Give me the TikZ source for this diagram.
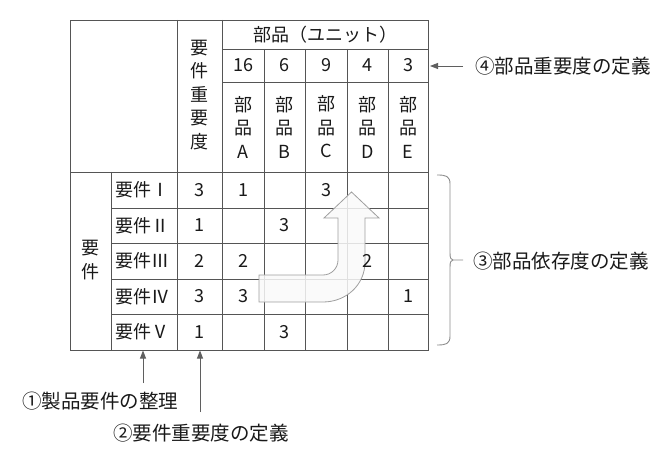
\documentclass[tikz,border=0pt]{standalone}
\usepackage{fontspec}
\setmainfont{Noto Sans CJK JP}
\usetikzlibrary{arrows.meta}
\definecolor{tline}{RGB}{85,85,85}
\definecolor{aline}{RGB}{95,95,95}
\definecolor{bline}{RGB}{140,140,140}
\definecolor{txt}{RGB}{25,25,25}
\begin{document}
\begin{tikzpicture}[x=1pt,y=-1pt,
  grid/.style={draw=tline,line width=0.9pt},
  cell/.style={inner sep=0pt,text=txt,font=\fontsize{18}{23.5}\selectfont,align=center},
  rowlab/.style={cell,anchor=west},
  note/.style={inner sep=0pt,text=txt,font=\fontsize{19.5}{22}\selectfont,anchor=west},
  ann/.style={draw=aline,line width=0.9pt,-{Triangle[length=8pt,width=6pt]}},
  bracel/.style={draw=bline,line width=0.9pt},
  bigarrow/.style={draw=gray!75,line width=0.8pt,fill=gray!5,fill opacity=0.85}]
\useasboundingbox (0,0) rectangle (669,454);
% grid
\draw[grid] (70,20) rectangle (428,350);
\draw[grid] (177,20) -- (177,350);
\draw[grid] (222,20) -- (222,350);
\draw[grid] (222,49) -- (428,49);
\draw[grid] (222,82) -- (428,82);
\foreach \x in {264,305,347,388} \draw[grid] (\x,49) -- (\x,350);
\draw[grid] (70,172) -- (428,172);
\draw[grid] (111,172) -- (111,350);
\foreach \y in {208,243,279,314} \draw[grid] (111,\y) -- (428,\y);
% bent arrow
\draw[bigarrow] (259,275) -- (323,275) .. controls (331.3,275) and (338,268.3) .. (338,260)
  -- (338,218) -- (324,218) -- (351.5,192) -- (379,218) -- (365,218) -- (365,262)
  .. controls (365,285) and (346,302) .. (323,302) -- (259,302) -- cycle;
% header texts
\node[cell] (units) at (325,34.5) {部品（ユニット）};
\node[cell] (impH) at (199.5,95) {要\\件\\重\\要\\度};
\node[cell] (reqH) at (90,260) {要\\件};
\foreach \c/\x/\w in {A/243/16,B/284.5/6,C/326/9,D/367.5/4,E/408/3}{
  \node[cell] (w\c) at (\x,65.5) {\w};
  \node[cell] (p\c) at (\x,127) {部\\品\\\c};
}
% rows
\foreach \r/\y/\lab/\imp in {1/190/Ⅰ/3,2/225.5/Ⅱ/1,3/261/Ⅲ/2,4/296.5/Ⅳ/3,5/332/Ⅴ/1}{
  \node[rowlab] (r\r) at (115,\y) {要件\lab};
  \node[cell] (i\r) at (199.5,\y) {\imp};
}
\node[cell] (v1A) at (243,190) {1};
\node[cell] (v1C) at (326,190) {3};
\node[cell] (v2B) at (284.5,225.5) {3};
\node[cell] (v3A) at (243,261) {2};
\node[cell] (v3D) at (367.5,261) {2};
\node[cell] (v4A) at (243,296.5) {3};
\node[cell] (v4E) at (408,296.5) {1};
\node[cell] (v5B) at (284.5,332) {3};
% annotations
\node[note] (n4) at (475,66) {④部品重要度の定義};
\node[note] (n3) at (473,261) {③部品依存度の定義};
\node[note] (n1) at (22,401) {①製品要件の整理};
\node[note] (n2) at (113,433) {②要件重要度の定義};
\coordinate (t4s) at (463,66);
\coordinate (t4e) at (430,66);
\coordinate (t1s) at (143,383);
\coordinate (t1e) at (143,350.5);
\coordinate (t2s) at (200,412);
\coordinate (t2e) at (200,350.5);
\draw[ann] (t4s) -- (t4e);
\draw[ann] (t1s) -- (t1e);
\draw[ann] (t2s) -- (t2e);
% brace
\coordinate (btop) at (437,175);
\coordinate (bbot) at (437,345);
\coordinate (btip) at (463,260);
\draw[bracel] (btop) .. controls (446,175) and (450,176) .. (450,184) -- (450,253)
  .. controls (450,258) and (451,260) .. (453,260) -- (btip);
\draw[bracel] (bbot) .. controls (446,345) and (450,344) .. (450,336) -- (450,267)
  .. controls (450,262) and (451,260) .. (453,260);
\end{tikzpicture}
\end{document}
